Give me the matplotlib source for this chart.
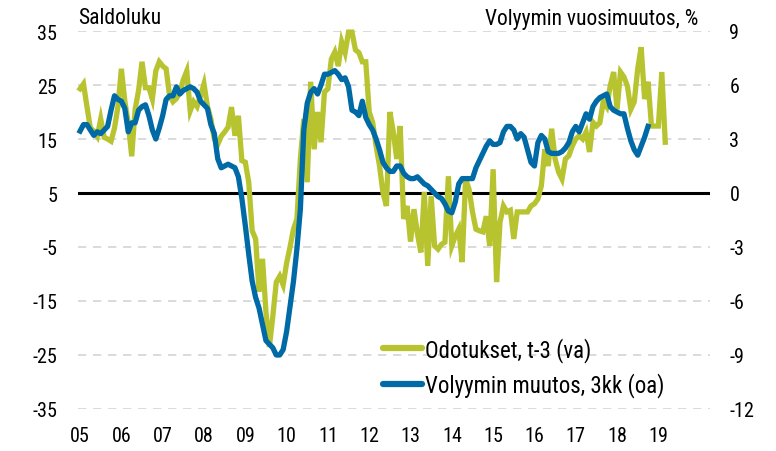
import matplotlib
matplotlib.use("Agg")
import matplotlib.pyplot as plt
from matplotlib import font_manager
import numpy as np

# ---------------- data ----------------
# Odotukset, t-3 (left axis, saldoluku), monthly from Jan 2005
odotukset = [
    24.3, 25.2, 21.0, 17.0, 16.5, 15.5, 18.7, 15.3, 15.0, 14.6, 17.0, 21.0,
    28.0, 22.0, 18.0, 11.8, 20.5, 24.0, 29.3, 24.5, 24.5, 22.4, 27.6, 29.3,
    28.5, 28.0, 23.0, 21.9, 22.5, 23.7, 26.0, 27.6, 20.2, 21.9, 21.0, 23.0,
    25.2, 21.0, 18.7, 15.0, 14.0, 15.5, 16.3, 17.2, 20.9, 15.6, 19.3, 11.0,
    10.7, 7.0, -2.0, -3.5, -13.3, -7.2, -17.0, -23.5, -17.8, -11.5, -10.4, -12.0,
    -8.0, -5.0, -1.7, 0.2, 11.3, 18.7, 7.0, 25.6, 13.1, 20.0, 14.4, 23.7,
    24.3, 29.8, 31.1, 28.5, 33.0, 31.0, 34.8, 34.8, 31.5, 31.0, 29.3, 29.3,
    20.0, 18.1, 13.7, 10.0, 5.0, 2.6, 20.0, 16.3, 11.3, 17.4, 0.2, 2.6,
    -4.0, 2.0, -2.5, -6.0, 5.2, -8.5, 4.4, -4.8, -5.4, -4.5, -4.1, 8.1,
    -4.8, -3.0, -1.7, -7.8, 7.6, 5.7, 1.5, -1.7, -2.0, -2.2, 0.7, -4.8,
    9.4, -11.5, -0.4, 2.6, 1.5, 1.8, -3.5, 1.5, 1.5, 1.5, 1.5, 2.6,
    3.0, 3.9, 6.3, 13.1, 10.0, 16.9, 11.3, 8.9, 7.6, 11.3, 11.9, 13.7,
    15.0, 15.6, 15.0, 16.3, 12.6, 18.1, 17.4, 18.0, 22.0, 21.0, 24.8, 27.4,
    20.5, 27.4, 26.5, 24.8, 20.5, 21.9, 28.0, 32.0, 22.4, 25.6, 17.4, 17.4,
    17.4, 27.4, 14.4,
]

# Volyymin muutos, 3kk (right axis, %), monthly from Jan 2005
volyymi = [
    3.44, 3.8, 3.8, 3.5, 3.2, 3.4, 3.3, 3.5, 3.7, 4.6, 5.4, 5.2,
    5.1, 4.7, 3.4, 3.9, 3.9, 4.6, 4.8, 4.9, 4.3, 3.5, 3.0, 3.6,
    4.3, 5.2, 5.4, 5.4, 5.9, 5.5, 5.7, 5.8, 5.9, 5.8, 5.6, 5.1,
    4.9, 4.7, 3.8, 3.3, 1.9, 1.4, 1.5, 1.6, 1.5, 1.4, 0.9, -0.3,
    -1.8, -3.4, -4.9, -5.8, -6.4, -7.3, -8.2, -8.4, -8.6, -9.0, -9.0, -8.7,
    -7.7, -6.3, -4.9, -3.1, -0.9, 3.5, 5.0, 5.6, 5.8, 5.5, 6.0, 6.6,
    6.6, 6.7, 6.8, 6.6, 6.3, 6.4, 5.9, 4.6, 4.5, 4.3, 5.1, 4.2,
    3.8, 3.5, 3.0, 2.4, 1.7, 1.4, 1.2, 1.2, 1.5, 1.5, 1.1, 0.9,
    0.8, 0.8, 0.9, 0.7, 0.5, 0.4, 0.2, 0.0, -0.2, -0.3, -0.6, -1.0,
    -1.1, -0.5, 0.5, 0.8, 0.8, 0.8, 0.8, 1.4, 1.8, 2.2, 2.6, 2.9,
    2.7, 2.7, 2.8, 3.4, 3.7, 3.7, 3.5, 3.0, 3.3, 3.1, 2.4, 1.7,
    1.5, 2.8, 3.2, 3.0, 2.3, 2.2, 2.2, 2.2, 2.3, 2.5, 2.8, 3.4,
    3.7, 3.4, 3.9, 4.4, 4.1, 4.8, 5.1, 5.3, 5.4, 5.5, 4.8, 4.6,
    4.5, 4.4, 4.4, 3.6, 2.9, 2.4, 2.1, 2.6, 3.1, 3.7,
]

start_year = 2005
years = list(range(2005, 2020))
year_labels = ["05", "06", "07", "08", "09", "10", "11", "12", "13", "14",
               "15", "16", "17", "18", "19"]
left_ticks = [-35, -25, -15, -5, 5, 15, 25, 35]
right_ticks = [-12, -9, -6, -3, 0, 3, 6, 9]

label_green = "Odotukset, t-3 (va)"
label_blue = "Volyymin muutos, 3kk (oa)"
title_left = "Saldoluku"
title_right = "Volyymin vuosimuutos, %"

# ---------------- style ----------------
available = {f.name for f in font_manager.fontManager.ttflist}
fam = "DejaVu Sans"
for cand in ["Roboto Condensed", "Archivo Narrow", "Asap Condensed", "Liberation Sans Narrow", "Roboto"]:
    if cand in available:
        fam = cand
        break
plt.rcParams["font.family"] = [fam, "DejaVu Sans"]

GREEN = "#B8C330"
BLUE = "#006AA6"
FS = 14.5
FS_HEAD = 15.5
FS_LEG = 16.5

x_g = start_year + np.arange(len(odotukset)) / 12.0
x_b = start_year + np.arange(len(volyymi)) / 12.0

fig = plt.figure(figsize=(7.76, 4.52), dpi=100)
ax = fig.add_axes([78 / 776, 1 - 410 / 452, (710 - 78) / 776, (410 - 32) / 452])
ax2 = ax.twinx()

ax.set_xlim(2004.95, 2020.25)
ax.set_ylim(-35, 35)
ax2.set_ylim(-12, 9)

for t in left_ticks:
    if t == 5:
        continue
    ax.axhline(t, color="#d4d4d4", lw=1.2, ls=(0, (5, 4)), zorder=0)
ax.axhline(5, color="black", lw=2.2, zorder=1)

ax.plot(x_g, odotukset, color=GREEN, lw=3.8, solid_joinstyle="miter", zorder=2,
        clip_on=False, label=label_green)
ax2.plot(x_b, volyymi, color=BLUE, lw=3.8, solid_joinstyle="round", zorder=3,
         clip_on=False, label=label_blue)

for a in (ax, ax2):
    for s in a.spines.values():
        s.set_visible(False)
    a.tick_params(length=0)

ax.set_yticks(left_ticks)
ax.set_yticklabels([str(t) for t in left_ticks], fontsize=FS)
ax.tick_params(axis="y", pad=15)
ax2.set_yticks(right_ticks)
ax2.set_yticklabels([str(t) for t in right_ticks], fontsize=FS)
ax2.tick_params(axis="y", pad=14)

ax.set_xticks(years)
ax.set_xticklabels(year_labels, fontsize=FS)
ax.tick_params(axis="x", pad=12)

fig.text(78 / 776, 1 - 19 / 452, title_left, fontsize=FS_HEAD, ha="left", va="center")
fig.text(698 / 776, 1 - 19 / 452, title_right, fontsize=FS_HEAD, ha="right", va="center")

h1, l1 = ax.get_legend_handles_labels()
h2, l2 = ax2.get_legend_handles_labels()
leg = ax2.legend(h1 + h2, l1 + l2, loc="upper left",
                 bbox_to_anchor=(383 / 776, 1 - 338 / 452),
                 bbox_transform=fig.transFigure, frameon=False, fontsize=FS_LEG,
                 handlelength=1.7, handletextpad=0.15, labelspacing=0.45,
                 borderpad=0, borderaxespad=0)
for line in leg.get_lines():
    line.set_linewidth(4.5)
    line.set_solid_capstyle("round")

fig.savefig("out.png", dpi=100)
